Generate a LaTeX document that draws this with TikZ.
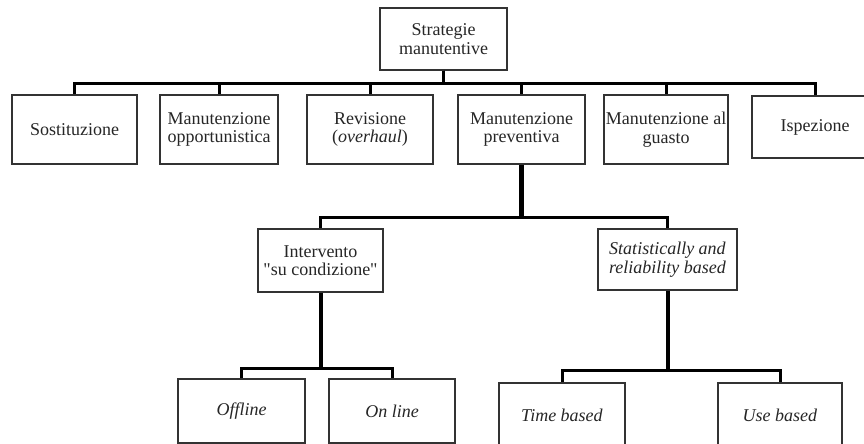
\documentclass[tikz,border=0pt]{standalone}
\usepackage{fontspec}
\setmainfont{Liberation Serif}[Ligatures=TeXOff]
\usetikzlibrary{shadows}
\begin{document}
\begin{tikzpicture}[x=1pt,y=-1pt,
  box/.style={draw=black!80, line width=1.2pt, fill=white, align=center,
    inner sep=0pt, text=black!85, font=\fontsize{18}{18.5}\selectfont,
    drop shadow={shadow xshift=1.2pt, shadow yshift=-1.2pt, opacity=0.3, fill=black}},
  sz/.style 2 args={minimum width=#1pt, minimum height=#2pt},
  conn/.style={line width=3pt, black},
  trunk/.style={line width=4.5pt, black}]
\clip (0,0) rectangle (864,444);

% root
\node[box, sz={127}{62}] (root) at (443.5,39) {Strategie\\manutentive};

% first level
\node[box, sz={125}{69}] (sost)   at (74.5,129.5) {Sostituzione};
\node[box, sz={118}{69}] (opp)    at (219,129.5)  {Manutenzione\\opportunistica};
\node[box, sz={126}{69}] (rev)    at (370,129.5)  {Revisione\\(\textit{overhaul})};
\node[box, sz={127}{69}] (prev)   at (521.5,129.5){Manutenzione\\preventiva};
\node[box, sz={124}{69}] (guasto) at (666,129.5)  {Manutenzione al\\guasto};
\node[box, sz={126}{62}] (isp)    at (815,127)    {Ispezione};

% second level
\node[box, sz={125}{63}] (interv) at (320.5,260.5) {Intervento\\"su condizione"};
\node[box, sz={139}{61}] (stat)   at (667.5,259.5) {\textit{Statistically and}\\\textit{reliability based}};

% third level
\node[box, sz={127}{64}] (offline) at (241.5,411) {\textit{Offline}};
\node[box, sz={126}{64}] (online)  at (392,411)   {\textit{On line}};
\node[box, sz={126}{64}] (timeb)   at (562,415)   {\textit{Time based}};
\node[box, sz={124}{64}] (useb)    at (780,415)   {\textit{Use based}};

% connectors
\foreach \c in {sost,opp,rev,prev,guasto,isp}
  \draw[conn] (root.south) -- ++(0,13) -| (\c.north);

\draw[trunk] (prev.south) -- ++(0,53) coordinate (j2);
\draw[conn] (j2) -| (interv.north);
\draw[conn] (j2) -| (stat.north);

\draw[line width=4pt] (interv.south) -- ++(0,76) coordinate (j3a);
\draw[conn] (j3a) -| (offline.north);
\draw[conn] (j3a) -| (online.north);

\draw[line width=4pt] (stat.south) -- ++(0,80) coordinate (j3b);
\draw[conn] (j3b) -| (timeb.north);
\draw[conn] (j3b) -| (useb.north);
\end{tikzpicture}
\end{document}
